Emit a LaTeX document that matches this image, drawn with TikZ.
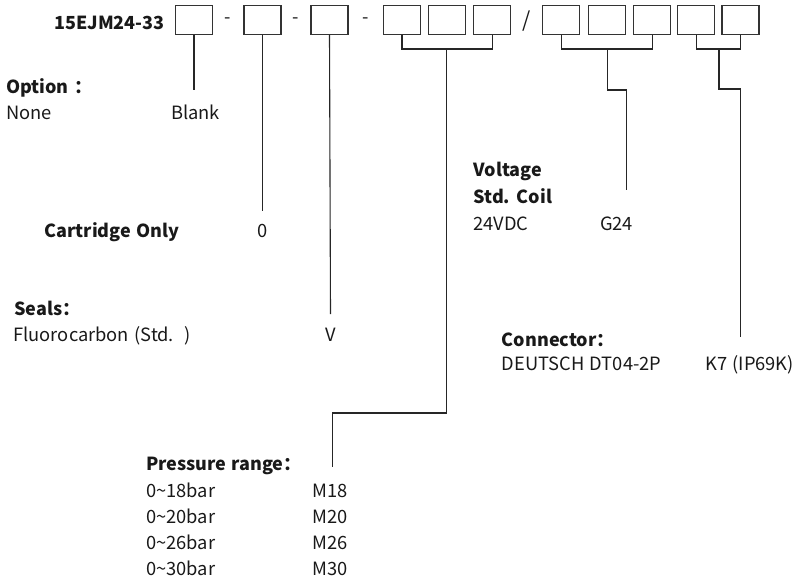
\documentclass[tikz,border=0pt]{standalone}
\usepackage{fontspec}
\setmainfont{Noto Sans CJK SC}[WordSpace=1.3]
\begin{document}
\begin{tikzpicture}[x=1pt,y=-1pt,
  txt/.style={inner sep=0pt,anchor=base west,font=\fontsize{18.3}{20}\selectfont,text=black!90},
  bld/.style={txt,font=\fontsize{18}{20}\selectfont\bfseries},
  ctr/.style={txt,anchor=base},
  slot/.style={draw=black!80,line width=1.2pt,minimum width=37pt,minimum height=29pt,inner sep=0pt},
  lnk/.style={draw=black!85,line width=1.1pt}]
\useasboundingbox (0,0) rectangle (803,582);
% title and slots
\node[bld] (title) at (54,29) {15EJM24-33};
\node[slot] (b1) at (194,19.7) {};
\node[slot] (b2) at (262.5,19.7) {};
\node[slot] (b3) at (329.5,19.7) {};
\node[slot] (b4) at (402,19.7) {};
\node[slot] (b5) at (447.3,19.7) {};
\node[slot] (b6) at (492.2,19.7) {};
\node[slot] (b7) at (561.3,19.7) {};
\node[slot] (b8) at (607,19.7) {};
\node[slot] (b9) at (652.3,19.7) {};
\node[slot] (b10) at (696.3,19.7) {};
\node[slot] (b11) at (740.5,19.7) {};
\node[txt,anchor=center] (d1) at (228,21) {-};
\node[txt,anchor=center] (d2) at (296,21) {-};
\node[txt,anchor=center] (d3) at (365.7,21) {-};
\node[txt,anchor=center,font=\fontsize{21}{22}\selectfont] (sl) at (526.7,21) {/};
% texts
\node[bld] (opt) at (6,93.3) {Option ：};
\node[txt] (none) at (6,119.3) {None};
\node[txt] (blank) at (171,119.3) {Blank};
\node[bld] (cart) at (44.3,237) {Cartridge Only};
\node[ctr] (zero) at (263,237) {0};
\node[bld] (seals) at (14,315) {Seals：};
\node[txt] (fluo) at (13.3,341) {Fluorocarbon (Std.~~)};
\node[ctr] (vv) at (330.5,341) {V};
\node[bld] (volt) at (473.3,176.7) {Voltage};
\node[bld] (coil) at (473.3,203.3) {Std. Coil};
\node[txt] (vdc) at (473.3,230.7) {24VDC};
\node[txt] (g24) at (600,230.7) {G24};
\node[bld] (conn) at (501.7,346.7) {Connector：};
\node[txt] (deu) at (501.7,370) {DEUTSCH DT04-2P};
\node[txt] (k7) at (705,370) {K7 (IP69K)};
\node[bld] (pres) at (146,470.7) {Pressure range：};
\node[txt] (r1) at (146,497.3) {0{\char"7E}18bar};
\node[txt] (r2) at (146,523.3) {0{\char"7E}20bar};
\node[txt] (r3) at (146,549.3) {0{\char"7E}26bar};
\node[txt] (r4) at (146,575.3) {0{\char"7E}30bar};
\node[txt] (m1) at (312.7,497.3) {M18};
\node[txt] (m2) at (312.7,523.3) {M20};
\node[txt] (m3) at (312.7,549.3) {M26};
\node[txt] (m4) at (312.7,575.3) {M30};
% connector end points
\coordinate (e1) at (194,90);
\coordinate (e2) at (262.5,211);
\coordinate (e3) at (330.5,314);
\coordinate (s1) at (446.7,49);
\coordinate (e4) at (332.3,466.7);
\coordinate (s2) at (607.7,49);
\coordinate (e5) at (626.7,190);
\coordinate (s3) at (719,49);
\coordinate (e6) at (740.7,336.7);
% connectors
\draw[lnk] (b1.south) -- (e1);
\draw[lnk] (b2.south) -- (e2);
\draw[lnk] (b3.south) -- (e3);
\draw[lnk] (b4.south) |- (s1) -| (b6.south);
\draw[lnk] (s1) -- (446.7,413) -| (e4);
\draw[lnk] (b7.south) |- (s2) -| (b9.south);
\draw[lnk] (s2) -- (607.7,90) -| (e5);
\draw[lnk] (b10.south) |- (s3) -| (b11.south);
\draw[lnk] (s3) -- (719,89) -| (e6);
\end{tikzpicture}
\end{document}
